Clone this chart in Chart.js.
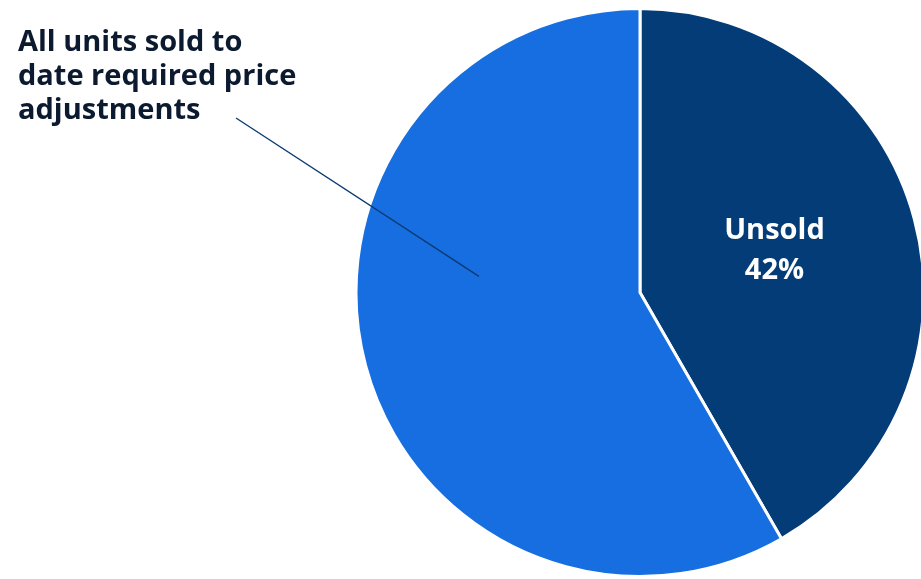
<!DOCTYPE html>
<html>
<head>
<meta charset="utf-8">
<script src="https://cdn.jsdelivr.net/npm/chart.js@4.4.1/dist/chart.umd.min.js"></script>
<style>
  html, body { margin: 0; padding: 0; background: #fff; overflow: hidden; }
  #wrap { width: 930px; height: 579px; }
</style>
</head>
<body>
<div id="wrap"><canvas id="pie"></canvas></div>
<script>
const sliceLabels = ["Unsold", "All units sold to date required price adjustments"];
const sliceValues = [41.7, 58.3];
const sliceColors = ["#033c77", "#176ee1"];
const calloutLines = ["All units sold to", "date required price", "adjustments"];

const FONT = "'Open Sans', 'Noto Sans', sans-serif";

// labels: white text inside the unsold slice, callout text + leader line for the sold slice
const pieLabels = {
  id: "pieLabels",
  afterDatasetsDraw(chart) {
    const ctx = chart.ctx;
    const arcs = chart.getDatasetMeta(0).data;
    const unsold = arcs[0];
    const cx = unsold.x;
    const cy = unsold.y;
    const r = unsold.outerRadius;

    ctx.save();
    const mid = (unsold.startAngle + unsold.endAngle) / 2;
    const lx = cx + Math.cos(mid) * r * 0.49;
    const ly = cy + Math.sin(mid) * r * 0.49 - 8;
    ctx.fillStyle = "#ffffff";
    ctx.font = "bold 29px " + FONT;
    ctx.textAlign = "center";
    ctx.textBaseline = "alphabetic";
    ctx.fillText(sliceLabels[0], lx, ly - 10);
    ctx.fillText(Math.round(sliceValues[0]) + "%", lx, ly + 30);

    // leader line from the callout into the sold slice
    const ex = cx - Math.cos(0.1) * r * 0.57;
    const ey = cy - Math.sin(0.1) * r * 0.57;
    ctx.strokeStyle = "#0b3a72";
    ctx.lineWidth = 1.4;
    ctx.beginPath();
    ctx.moveTo(236, 118);
    ctx.lineTo(ex, ey);
    ctx.stroke();

    ctx.fillStyle = "#0c1a30";
    ctx.textAlign = "left";
    ctx.font = "bold 29px " + FONT;
    calloutLines.forEach((line, i) => {
      ctx.fillText(line, 18, 51 + i * 34);
    });
    ctx.restore();
  }
};

new Chart(document.getElementById("pie"), {
  type: "pie",
  data: {
    labels: sliceLabels,
    datasets: [
      {
        data: sliceValues,
        backgroundColor: sliceColors,
        borderColor: "#ffffff",
        borderWidth: 3,
        radius: 284,
      },
    ],
  },
  options: {
    responsive: true,
    maintainAspectRatio: false,
    animation: false,
    layout: {
      padding: { left: 356, right: 6, top: 9, bottom: 3 },
    },
    plugins: {
      legend: { display: false },
      tooltip: { enabled: false },
    },
  },
  plugins: [pieLabels],
});
</script>
</body>
</html>
